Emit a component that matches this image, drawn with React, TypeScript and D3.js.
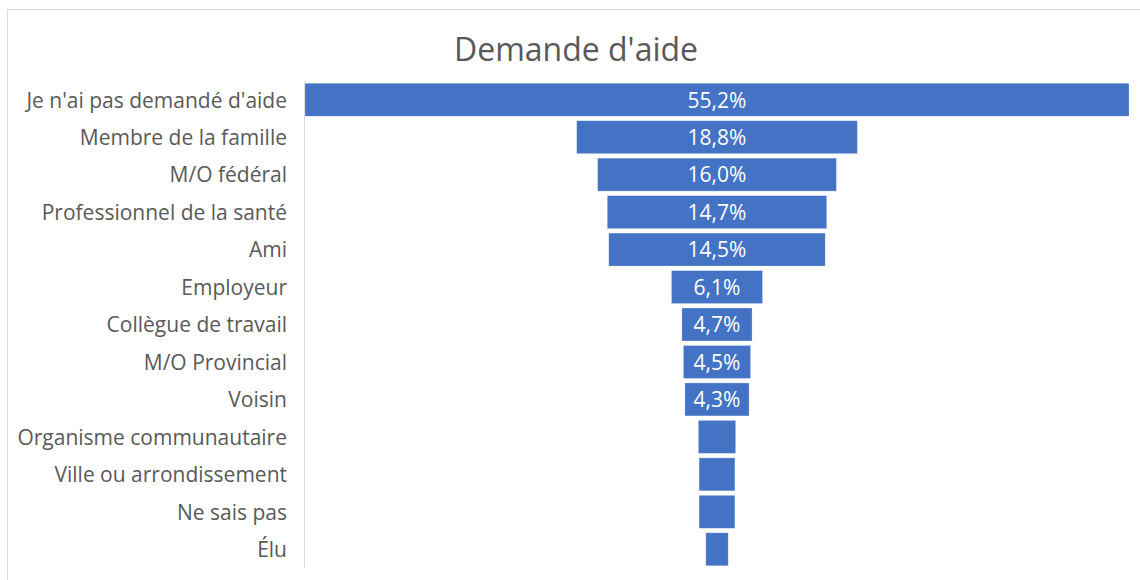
import React from "react";
import * as d3 from "d3";

const categories = [
  "Je n'ai pas demandé d'aide",
  "Membre de la famille",
  "M/O fédéral",
  "Professionnel de la santé",
  "Ami",
  "Employeur",
  "Collègue de travail",
  "M/O Provincial",
  "Voisin",
  "Organisme communautaire",
  "Ville ou arrondissement",
  "Ne sais pas",
  "Élu",
];
const values = [55.2, 18.8, 16.0, 14.7, 14.5, 6.1, 4.7, 4.5, 4.3, 2.5, 2.4, 2.4, 1.5];
const showLabel = [true, true, true, true, true, true, true, true, true, false, false, false, false];

const W = 1140, H = 580;
const FONT = "'Segoe UI', 'Open Sans', sans-serif";

export default function App() {
  const plotLeft = 305, plotRight = 1129;
  const top = 81, bottom = 568;
  const center = (plotLeft + plotRight) / 2;
  const y = d3.scaleBand<string>().domain(categories).range([top, bottom]).paddingInner(0.12).paddingOuter(0.06);
  const w = d3.scaleLinear().domain([0, d3.max(values)!]).range([0, plotRight - plotLeft]);
  const fmt = (v: number) => v.toFixed(1).replace(".", ",") + "%";
  return (
    <div style={{ position: "absolute", left: 0, top: 0 }}>
      <svg width={W} height={H} style={{ display: "block" }}>
        <rect x={0} y={0} width={W} height={H} fill="#fff" />
        <rect x={7.5} y={9.5} width={W} height={H} fill="#fff" stroke="#d9d9d9" strokeWidth={1} />
        <text x={576} y={61} textAnchor="middle" fontFamily={FONT} fontSize={32} fill="#595959">Demande d'aide</text>
        <line x1={304.5} x2={304.5} y1={top} y2={bottom} stroke="#d9d9d9" strokeWidth={1} />
        {categories.map((c, i) => {
          const bw = w(values[i]);
          const by = y(c)!;
          const bh = y.bandwidth();
          return (
            <g key={c}>
              <text x={287} y={by + bh / 2} dy="0.37em" textAnchor="end" fontFamily={FONT} fontSize={21} fill="#595959">{c}</text>
              <rect x={center - bw / 2} y={by} width={bw} height={bh} fill="#4472c4" stroke="#ffffff" strokeOpacity={0.35} strokeWidth={0.75} />
              {showLabel[i] && (
                <text x={center} y={by + bh / 2} dy="0.37em" textAnchor="middle" fontFamily={FONT} fontSize={21} fill="#ffffff">{fmt(values[i])}</text>
              )}
            </g>
          );
        })}
      </svg>
    </div>
  );
}
